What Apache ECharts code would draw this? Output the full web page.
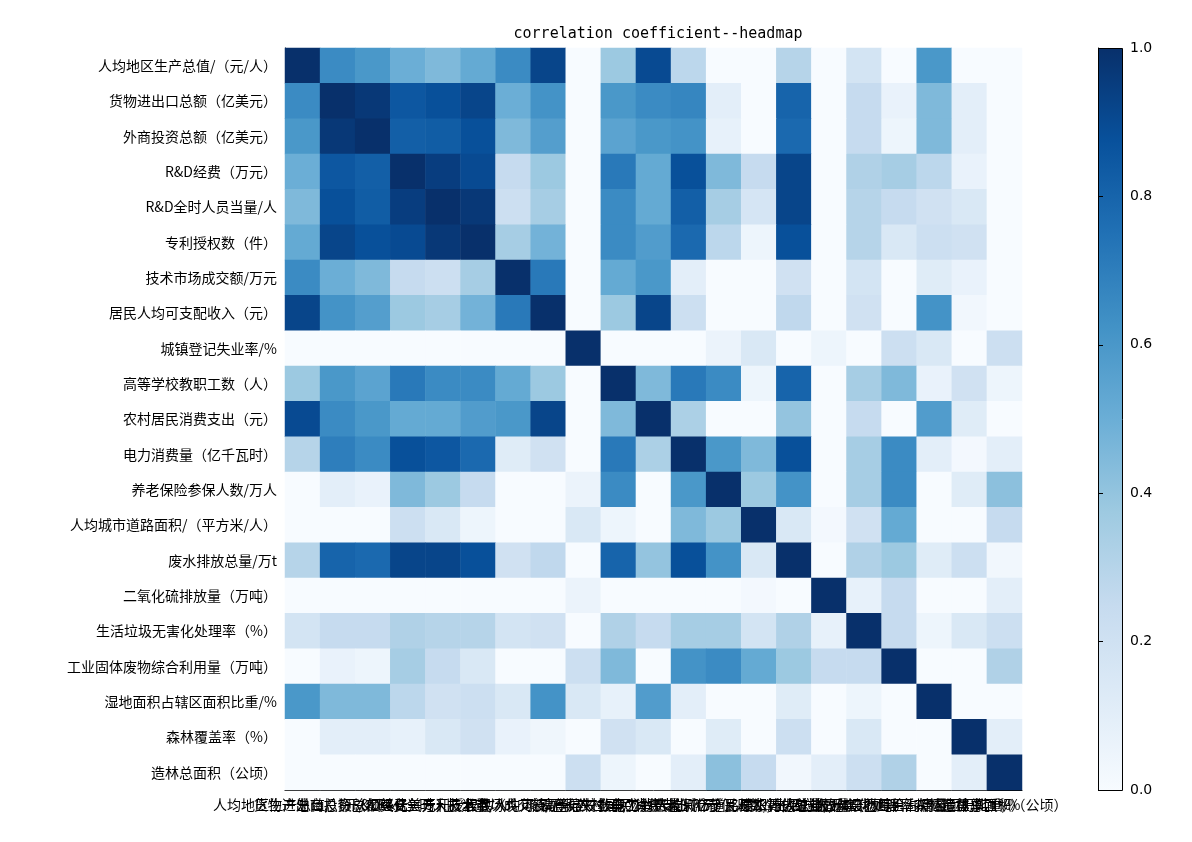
<!DOCTYPE html>
<html><head><meta charset="utf-8">
<script src="https://cdn.jsdelivr.net/npm/echarts@6/dist/echarts.min.js"></script>
<style>html,body{margin:0;padding:0;background:#fff}#c{width:1192px;height:842px}</style>
</head><body><div id="c"></div>
<script>
const labels = ["人均地区生产总值/（元/人）","货物进出口总额（亿美元）","外商投资总额（亿美元）","R&D经费（万元）","R&D全时人员当量/人","专利授权数（件）","技术市场成交额/万元","居民人均可支配收入（元）","城镇登记失业率/%","高等学校教职工数（人）","农村居民消费支出（元）","电力消费量（亿千瓦时）","养老保险参保人数/万人","人均城市道路面积/（平方米/人）","废水排放总量/万t","二氧化硫排放量（万吨）","生活垃圾无害化处理率（%）","工业固体废物综合利用量（万吨）","湿地面积占辖区面积比重/%","森林覆盖率（%）","造林总面积（公顷）"];
const r0 =[1.0,0.65,0.6,0.5,0.45,0.52,0.65,0.92,0,0.38,0.9,0.28,0,0,0.3,0,0.18,0,0.6,0,0];
const r1 =[0.65,1.0,0.97,0.85,0.88,0.92,0.5,0.62,0,0.6,0.65,0.67,0.1,0,0.8,0,0.25,0.07,0.45,0.1,0];
const r2 =[0.6,0.97,1.0,0.82,0.83,0.88,0.45,0.57,0,0.55,0.6,0.62,0.08,0,0.78,0,0.25,0.05,0.45,0.1,0];
const r3 =[0.5,0.85,0.82,1.0,0.95,0.9,0.25,0.38,0,0.72,0.52,0.88,0.45,0.25,0.92,0,0.32,0.35,0.28,0.07,0];
const r4 =[0.45,0.88,0.83,0.95,1.0,0.97,0.22,0.35,0,0.65,0.52,0.82,0.35,0.17,0.92,0,0.3,0.25,0.2,0.15,0];
const r5 =[0.52,0.92,0.88,0.9,0.97,1.0,0.35,0.48,0,0.65,0.58,0.78,0.28,0.05,0.88,0,0.3,0.15,0.22,0.2,0];
const r6 =[0.65,0.5,0.45,0.25,0.22,0.35,1.0,0.72,0,0.52,0.6,0.1,0,0,0.2,0,0.18,0,0.12,0.07,0];
const r7 =[0.92,0.62,0.57,0.38,0.35,0.48,0.72,1.0,0,0.38,0.92,0.22,0,0,0.27,0,0.2,0,0.62,0.03,0];
const r8 =[0,0,0,0,0,0,0,0,1.0,0,0,0,0.06,0.15,0,0.05,0,0.22,0.15,0,0.22];
const r9 =[0.38,0.6,0.55,0.72,0.65,0.65,0.52,0.38,0,1.0,0.45,0.72,0.65,0.05,0.8,0,0.35,0.45,0.07,0.2,0.05];
const r10=[0.9,0.65,0.6,0.52,0.52,0.58,0.6,0.92,0,0.45,1.0,0.33,0,0,0.4,0,0.25,0,0.58,0.12,0];
const r11=[0.3,0.7,0.65,0.88,0.85,0.78,0.12,0.2,0,0.72,0.33,1.0,0.6,0.45,0.88,0,0.35,0.65,0.1,0.02,0.1];
const r12=[0,0.1,0.07,0.45,0.38,0.25,0,0,0.06,0.65,0,0.6,1.0,0.38,0.62,0,0.35,0.65,0,0.12,0.42];
const r13=[0,0,0,0.22,0.15,0.05,0,0,0.15,0.05,0,0.45,0.38,1.0,0.15,0.02,0.2,0.52,0,0,0.25];
const r14=[0.3,0.8,0.78,0.92,0.92,0.88,0.2,0.27,0,0.8,0.4,0.88,0.62,0.15,1.0,0,0.32,0.38,0.12,0.22,0.03];
const r15=[0,0,0,0,0,0,0,0,0.06,0,0,0,0,0.02,0,1.0,0.08,0.25,0,0,0.1];
const r16=[0.18,0.25,0.25,0.32,0.3,0.3,0.18,0.2,0,0.32,0.25,0.35,0.35,0.18,0.32,0.08,1.0,0.25,0.05,0.15,0.22];
const r17=[0,0.07,0.05,0.35,0.25,0.15,0,0,0.22,0.45,0,0.62,0.65,0.52,0.38,0.25,0.25,1.0,0,0,0.32];
const r18=[0.6,0.45,0.45,0.28,0.2,0.22,0.15,0.62,0.15,0.08,0.58,0.1,0,0,0.12,0,0.05,0,1.0,0,0];
const r19=[0,0.1,0.1,0.08,0.15,0.2,0.07,0.04,0,0.2,0.15,0,0.12,0,0.22,0,0.15,0,0,1.0,0.1];
const r20=[0,0,0,0,0,0,0,0,0.22,0.05,0,0.1,0.42,0.25,0.03,0.1,0.22,0.32,0,0.1,1.0];
const rows=[r0,r1,r2,r3,r4,r5,r6,r7,r8,r9,r10,r11,r12,r13,r14,r15,r16,r17,r18,r19,r20];
const cbTicks=[0,0.2,0.4,0.6,0.8,1.0];
const blues=['#f7fbff','#deebf7','#c6dbef','#9ecae1','#6baed6','#4292c6','#2171b5','#08519c','#08306b'];
const data=[];
rows.forEach((r,i)=>r.forEach((v,j)=>data.push([j,i,v])));
const ch=echarts.init(document.getElementById('c'));
const cjk='"Noto Sans CJK SC", sans-serif';
ch.setOption({
  animation:false,
  title:{text:'correlation coefficient--headmap',left:653,top:22,textAlign:'center',textStyle:{fontFamily:'DejaVu Sans Mono',fontSize:15,fontWeight:'normal',color:'#000'}},
  grid:[{left:285,top:48,width:737,height:742},{left:1098,top:48,width:24,height:742}],
  xAxis:[{type:'category',data:labels,gridIndex:0,axisLine:{lineStyle:{color:'#000'}},axisTick:{alignWithLabel:true,lineStyle:{color:'#000'}},axisLabel:{interval:0,color:'#000',fontFamily:cjk,fontSize:14,hideOverlap:false},splitArea:{show:false}},
         {type:'value',gridIndex:1,show:false,min:0,max:1}],
  yAxis:[{type:'category',data:labels,inverse:true,gridIndex:0,axisLine:{lineStyle:{color:'#000'}},axisTick:{alignWithLabel:true,lineStyle:{color:'#000'}},axisLabel:{interval:0,color:'#000',fontFamily:cjk,fontSize:14}},
         {type:'value',gridIndex:1,min:0,max:1,interval:0.2,position:'right',axisLine:{show:true,lineStyle:{color:'#000'}},axisTick:{show:true,lineStyle:{color:'#000'}},splitLine:{show:false},axisLabel:{color:'#000',fontFamily:'DejaVu Sans',fontSize:14,formatter:v=>v.toFixed(1)}}],
  visualMap:{show:false,min:0,max:1,seriesIndex:0,inRange:{color:blues}},
  graphic:[{type:'rect',left:1098,top:48,shape:{width:24,height:742},z:0,style:{stroke:'#000',lineWidth:1,fill:new echarts.graphic.LinearGradient(0,1,0,0,blues.map((c,i)=>({offset:i/(blues.length-1),color:c})))}}],
  series:[{type:'heatmap',data:data,xAxisIndex:0,yAxisIndex:0,itemStyle:{borderWidth:0}}]
});
</script></body></html>
